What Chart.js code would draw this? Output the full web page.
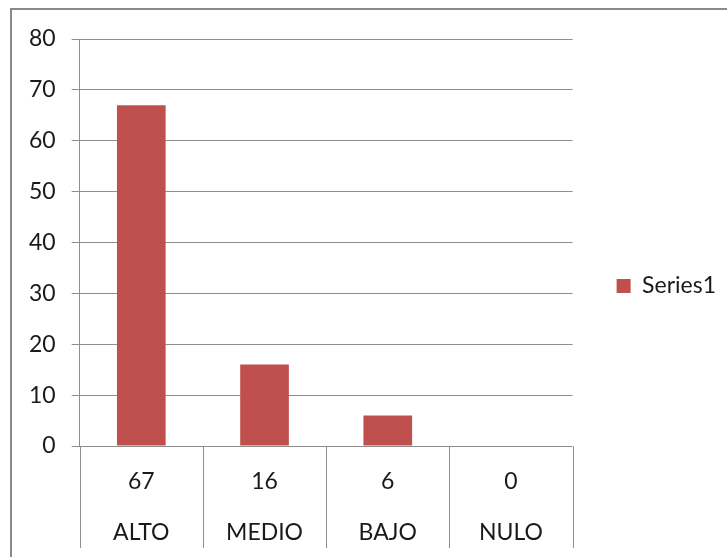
<!DOCTYPE html>
<html>
<head>
<meta charset="utf-8">
<script src="https://cdn.jsdelivr.net/npm/chart.js@4.4.1/dist/chart.umd.min.js"></script>
<style>
  html, body { margin: 0; padding: 0; background: #fff; }
  #wrap { position: relative; width: 727px; height: 557px; overflow: hidden; }
  #frame {
    position: absolute; left: 10px; top: 8px; width: 800px; height: 600px;
    border-left: 2px solid #8a8a8a; border-top: 2px solid #8a8a8a;
    pointer-events: none;
  }
  canvas { position: absolute; left: 0; top: 0; }
</style>
</head>
<body>
<div id="wrap">
  <canvas id="chart" width="727" height="557"></canvas>
  <div id="frame"></div>
</div>
<script>
// Categories and values
const categories = ['ALTO', 'MEDIO', 'BAJO', 'NULO'];
const series1 = [67, 16, 6, 0];
const seriesName = 'Series1';
const yMax = 80;
const yStep = 10;

const FONT = 'Lato, "Open Sans", sans-serif';
const FONT_SIZE = 23;
const TEXT = '#1a1a1a';
const LINE = '#8f8f8f';

// Data table under the plot: value row and category row with cell borders
const dataTablePlugin = {
  id: 'dataTable',
  afterDraw(chart) {
    const { ctx, chartArea } = chart;
    const x = chart.scales.x;
    const y = chart.scales.y;
    const n = categories.length;
    const step = (chartArea.right - chartArea.left) / n;
    const top = Math.round(y.getPixelForValue(0)) + 0.5;
    const bottom = 548;
    ctx.save();
    ctx.strokeStyle = LINE;
    ctx.lineWidth = 1;
    for (let i = 0; i <= n; i++) {
      const px = Math.round(chartArea.left + i * step) + 0.5;
      ctx.beginPath();
      ctx.moveTo(px, top);
      ctx.lineTo(px, bottom);
      ctx.stroke();
    }
    ctx.fillStyle = TEXT;
    ctx.font = FONT_SIZE + 'px ' + FONT;
    ctx.textAlign = 'center';
    ctx.textBaseline = 'middle';
    for (let i = 0; i < n; i++) {
      const cx = x.getPixelForValue(i);
      ctx.fillText(String(series1[i]), cx, top + 35);
      ctx.fillText(categories[i], cx, top + 86);
    }
    ctx.restore();
  }
};

new Chart(document.getElementById('chart'), {
  type: 'bar',
  data: {
    labels: categories,
    datasets: [{
      label: seriesName,
      data: series1,
      backgroundColor: '#C0504D',
      borderWidth: 0,
      barPercentage: 0.395,
      categoryPercentage: 1.0
    }]
  },
  options: {
    responsive: false,
    animation: false,
    devicePixelRatio: 1,
    layout: { padding: { left: 13, right: 1, top: 39, bottom: 24 } },
    plugins: {
      legend: {
        position: 'right',
        labels: {
          font: { family: FONT, size: FONT_SIZE },
          color: TEXT,
          boxWidth: 14,
          boxHeight: 14,
          padding: 44
        }
      },
      tooltip: { enabled: false }
    },
    scales: {
      x: {
        // space reserved for the data table drawn by the plugin
        grid: { display: false },
        border: { display: false },
        ticks: { display: false },
        afterFit(scale) { scale.height = 87; }
      },
      y: {
        min: 0,
        max: yMax,
        ticks: {
          stepSize: yStep,
          padding: 16,
          color: TEXT,
          font: { family: FONT, size: FONT_SIZE }
        },
        grid: {
          color: LINE,
          tickLength: 8,
          tickColor: LINE
        },
        border: { color: LINE, width: 1 }
      }
    }
  },
  plugins: [dataTablePlugin]
});
</script>
</body>
</html>
